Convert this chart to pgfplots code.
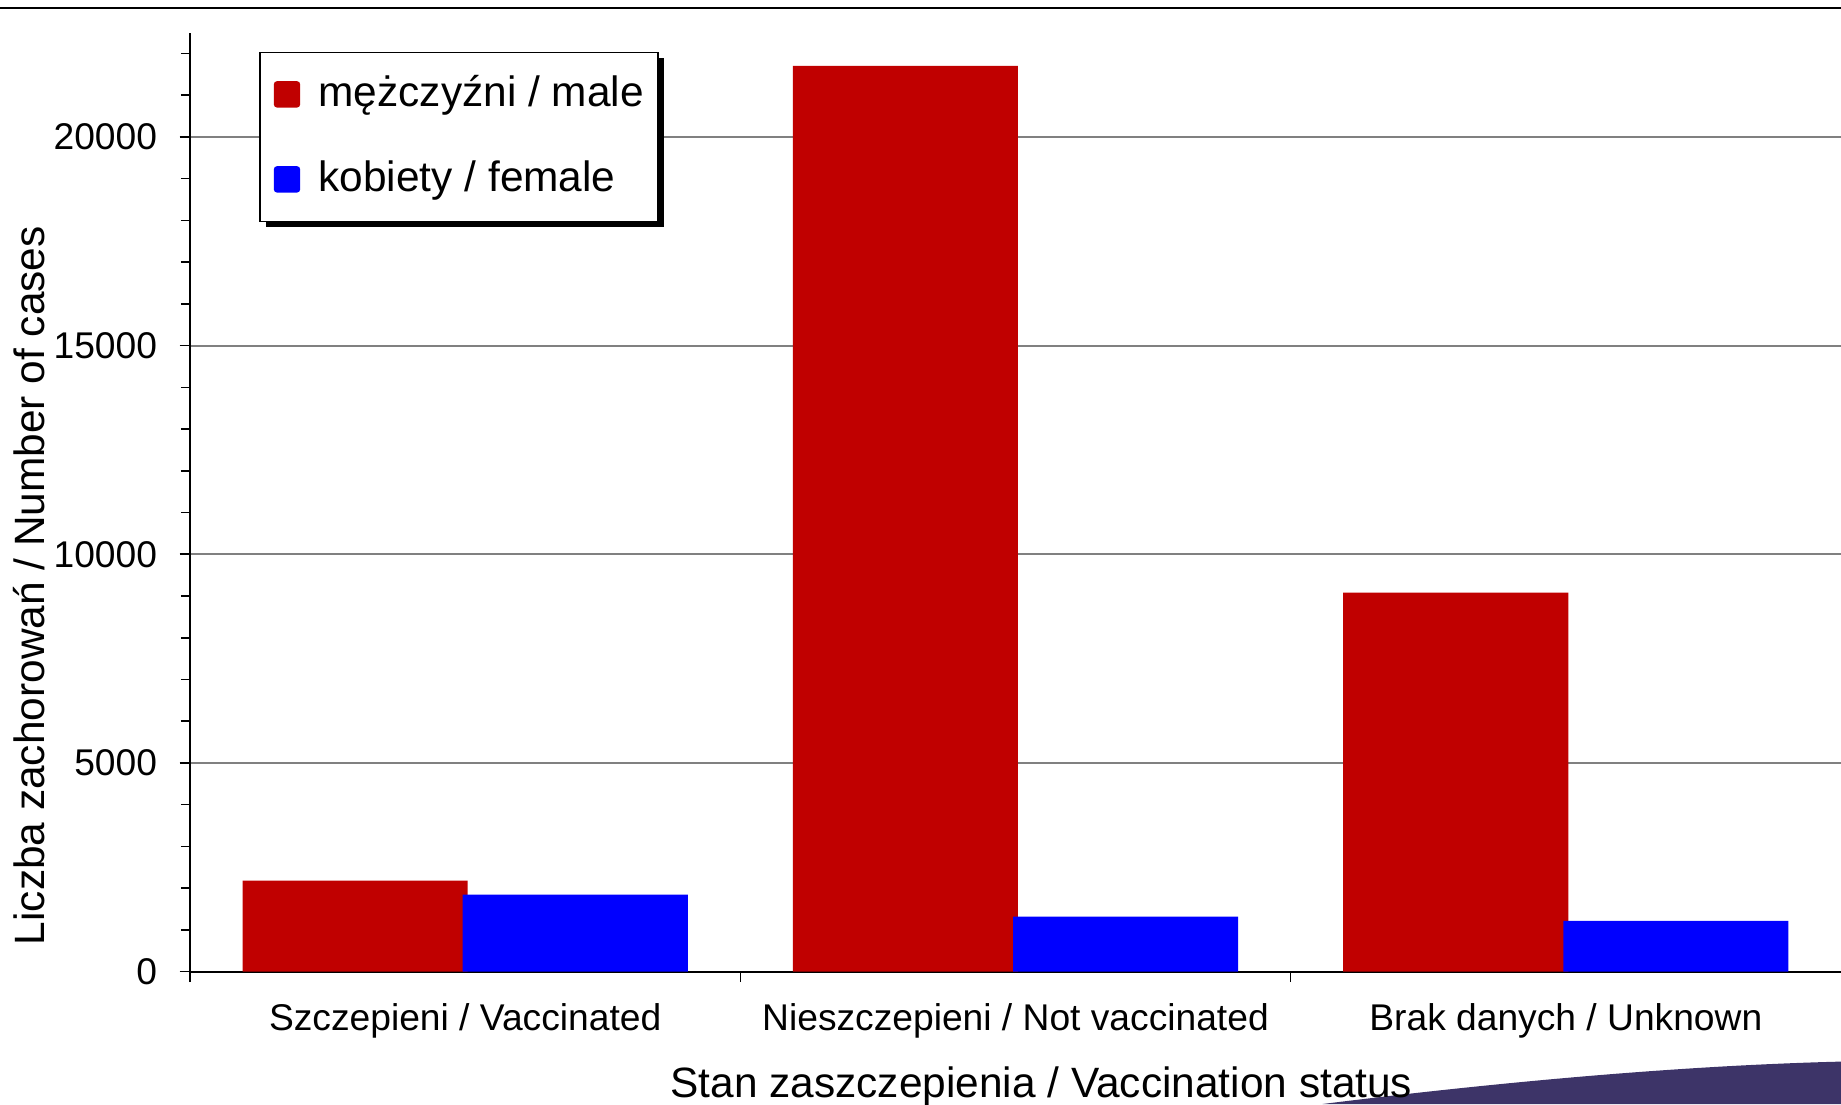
\documentclass[border=0pt]{standalone}
\usepackage{fontspec}
\setmainfont{Liberation Sans}
\usepackage{pgfplots}
\pgfplotsset{compat=1.18}
\usetikzlibrary{shadows}
\definecolor{male}{HTML}{C00000}
\definecolor{female}{HTML}{0000FF}
\definecolor{swoosh}{HTML}{3D3468}
\makeatletter
\tikzset{no preactions/.code={\let\tikz@preactions\pgfutil@empty}}
\makeatother

\begin{document}
\begin{tikzpicture}
\useasboundingbox (0,0) rectangle (460.25pt,276pt);
% decoration in the bottom right corner and the rule at the top
\fill[swoosh] (330.65pt,0) .. controls (375pt,5.5pt) and (420pt,9.6pt) .. (460.25pt,10.6pt) -- (460.25pt,0) -- cycle;
\draw[line width=0.5pt] (0,274pt) -- (460.25pt,274pt);
\begin{axis}[
scale only axis,width=412.75pt,height=234.75pt,
at={(47.5pt,33.1pt)},anchor=south west,
ybar,bar width=0.409,
xmin=-0.5,xmax=2.5,ymin=0,ymax=22500,
axis x line=bottom,axis y line=left,
axis line style={-,line width=0.45pt},
tick align=outside,
xtick={-0.5,0.5,1.5},xticklabels={,,},
major tick length=2.6pt,minor tick length=2.3pt,
tick style={black,line width=0.4pt},
extra x ticks={0,1,2},
extra x tick labels={Szczepieni / Vaccinated,Nieszczepieni / Not vaccinated,Brak danych / Unknown},
extra x tick style={major tick length=0pt},
ytick={0,5000,10000,15000,20000},
minor ytick={1000,2000,3000,4000,6000,7000,8000,9000,11000,12000,13000,14000,16000,17000,18000,19000,21000,22000},
scaled y ticks=false,
/pgf/number format/.cd,1000 sep={},assume math mode=true,/pgfplots/.cd,
ymajorgrids=true,grid style={gray,line width=0.5pt},
xticklabel style={font=\fontsize{9.3}{11}\selectfont,anchor=base,yshift=-14.7pt},
yticklabel style={font=\fontsize{9.3}{11}\selectfont,anchor=east,xshift=-2.1pt},
xlabel={Stan zaszczepienia / Vaccination status},
xlabel style={font=\fontsize{10.6}{12}\selectfont,at={(axis description cs:0.5157,-0.134)},anchor=base},
ylabel={Liczba zachorowań / Number of cases},
ylabel style={font=\fontsize{10.6}{12}\selectfont,at={(axis description cs:-0.0975,0.411)},anchor=center},
legend cell align=left,
legend image code/.code={\fill[#1,no preactions,rounded corners=0.8pt] (0pt,-3.3pt) rectangle (6.6pt,3.3pt);},
legend style={at={(0.0418,0.9798)},anchor=north west,draw=black,line width=0.4pt,fill=white,
  inner xsep=3.5pt,inner ysep=5pt,
  nodes={inner sep=0pt,text height=8.5pt,text depth=2.5pt},
  row sep=10.25pt,column sep=4.6pt,
  font=\fontsize{10.6}{12}\selectfont,
  drop shadow={shadow xshift=1.5pt,shadow yshift=-1.5pt,fill=black,opacity=1}},
]
\addplot[fill=male,draw=none,bar shift=-0.2] coordinates {(0,2180) (1,21700) (2,9080)};
\addlegendentry{mężczyźni / male}
\addplot[fill=female,draw=none,bar shift=0.2] coordinates {(0,1844) (1,1317) (2,1214)};
\addlegendentry{kobiety / female}
\end{axis}
\end{tikzpicture}
\end{document}
